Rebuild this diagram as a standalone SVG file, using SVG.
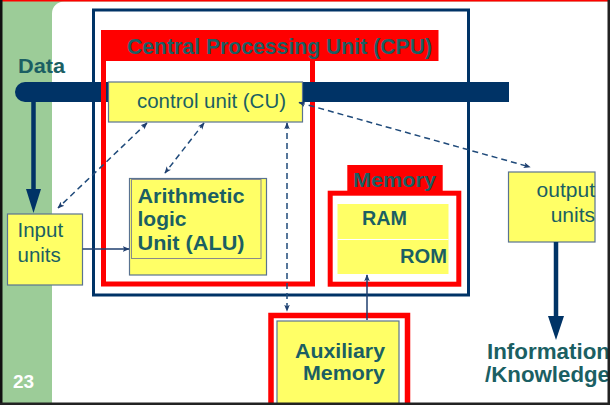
<svg xmlns="http://www.w3.org/2000/svg" width="610" height="405" viewBox="0 0 610 405">
<style>
.bold{font-family:"Liberation Sans",Arial,sans-serif;font-weight:bold;fill:#1b5f63}
.reg{font-family:"Liberation Sans",Arial,sans-serif;fill:#1b5f63}
.ybox{fill:#ffff66;stroke:#5a7390;stroke-width:1.2}
.red{fill:none;stroke:#ff0000;stroke-width:5}
.dash{fill:none;stroke:#1f4a7a;stroke-width:1.5;stroke-dasharray:6 4;marker-start:url(#ah);marker-end:url(#ah)}
.thin{fill:none;stroke:#1f3f6f;stroke-width:1.5;marker-end:url(#ah)}
.thick{fill:none;stroke:#003366;stroke-width:4.5}
</style>
<defs>
<marker id="ah" viewBox="0 0 10 10" refX="9" refY="5" markerUnits="userSpaceOnUse" markerWidth="7" markerHeight="7" orient="auto-start-reverse">
<path d="M0,1 L10,5 L0,9 L2.5,5 Z" fill="#1f3f6f"/>
</marker>
</defs>
<g id="background">
<rect x="0" y="0" width="610" height="405" fill="#9ccc98"/>
<path d="M64,1.5 H608 V403 H52 V13.5 A12,12 0 0 1 64,1.5 Z" fill="#ffffff"/>
<text x="13" y="388" font-family="Liberation Sans,Arial,sans-serif" font-weight="bold" font-size="19" fill="#ffffff">23</text>
</g>
<g id="computer">
<rect x="93.5" y="10" width="375" height="285" fill="none" stroke="#003366" stroke-width="3"/>
</g>
<g id="data-bus">
<path d="M25,82 H509 V102 H25 A10,10 0 0 1 25,82 Z" fill="#003366"/>
<text class="bold" x="18" y="73" font-size="20" textLength="47" lengthAdjust="spacingAndGlyphs">Data</text>
</g>
<g id="cpu">
<rect class="red" x="103.5" y="58" width="209" height="226"/>
<rect x="101" y="30" width="337.5" height="31" fill="#ff0000"/>
<text class="bold" x="127" y="53.5" font-size="22" textLength="305" lengthAdjust="spacingAndGlyphs">Central Processing Unit (CPU)</text>
<rect x="309" y="82" width="7" height="20" fill="#003366"/>
</g>
<g id="control-unit">
<rect class="ybox" x="108.5" y="82" width="194" height="40"/>
<text class="reg" x="137" y="107.5" font-size="21" textLength="149" lengthAdjust="spacingAndGlyphs">control unit (CU)</text>
</g>
<g id="alu">
<rect class="ybox" x="129.5" y="178.5" width="137" height="96.5"/>
<rect x="131.5" y="179.5" width="129.5" height="79" fill="none" stroke="#8a8a8a" stroke-width="1"/>
<text class="bold" x="137.5" y="202.5" font-size="21" textLength="107" lengthAdjust="spacingAndGlyphs">Arithmetic</text>
<text class="bold" x="137.5" y="226" font-size="21">logic</text>
<text class="bold" x="137.5" y="250" font-size="21" textLength="107" lengthAdjust="spacingAndGlyphs">Unit (ALU)</text>
</g>
<g id="memory">
<rect class="red" x="330.2" y="193.2" width="128.6" height="91"/>
<rect x="347.3" y="165" width="95.4" height="30" fill="#ff0000"/>
<text class="bold" x="353" y="187" font-size="21" textLength="83" lengthAdjust="spacingAndGlyphs">Memory</text>
<rect x="337.5" y="204" width="111" height="70" fill="#ffff66"/>
<line x1="337.5" y1="239.5" x2="448.5" y2="239.5" stroke="#ffffff" stroke-width="1"/>
<text class="bold" x="362" y="225" font-size="20" textLength="45" lengthAdjust="spacingAndGlyphs">RAM</text>
<text class="bold" x="400" y="262.5" font-size="20" textLength="47" lengthAdjust="spacingAndGlyphs">ROM</text>
</g>
<g id="auxiliary-memory">
<rect x="271" y="315.5" width="136.5" height="100" fill="none" stroke="#ff0000" stroke-width="5.5"/>
<rect class="ybox" x="277" y="321" width="122" height="90"/>
<text class="bold" x="385" y="357.5" font-size="21" text-anchor="end" textLength="90" lengthAdjust="spacingAndGlyphs">Auxiliary</text>
<text class="bold" x="385" y="380" font-size="21" text-anchor="end" textLength="82" lengthAdjust="spacingAndGlyphs">Memory</text>
</g>
<g id="input-units">
<rect class="ybox" x="7.5" y="214" width="75" height="71"/>
<text class="reg" x="17.5" y="237" font-size="20.5">Input</text>
<text class="reg" x="17.5" y="262" font-size="20.5">units</text>
</g>
<g id="output-units">
<rect class="ybox" x="508.5" y="172" width="86.5" height="70"/>
<text class="reg" x="595" y="197" font-size="21" text-anchor="end">output</text>
<text class="reg" x="595" y="222" font-size="21" text-anchor="end">units</text>
</g>
<g id="information">
<text class="bold" x="487" y="358.5" font-size="21.5" textLength="123" lengthAdjust="spacingAndGlyphs">Information</text>
<text class="bold" x="485" y="382" font-size="21.5" textLength="125" lengthAdjust="spacingAndGlyphs">/Knowledge</text>
</g>
<g id="connectors">
<line class="thick" x1="33.5" y1="100" x2="33.5" y2="192"/>
<polygon points="26,189 41,189 33.5,213" fill="#003366"/>
<line class="thick" x1="556" y1="242" x2="556" y2="318"/>
<polygon points="548,316 564,316 556,340" fill="#003366"/>
<line class="thin" x1="82.5" y1="249" x2="129" y2="249"/>
<line class="thin" x1="367" y1="320" x2="367" y2="275"/>
<line class="dash" x1="147" y1="123" x2="58" y2="208"/>
<line class="dash" x1="204" y1="123" x2="165" y2="173"/>
<line class="dash" x1="287" y1="123" x2="287" y2="311"/>
<line class="dash" x1="299" y1="102.5" x2="530" y2="167"/>
</g>
<g id="frame">
<rect x="0" y="0" width="610" height="1.5" fill="#ff0000"/>
<rect x="0" y="0" width="2.5" height="405" fill="#111111"/>
<rect x="607.5" y="0" width="2.5" height="405" fill="#222222"/>
<rect x="0" y="402.5" width="610" height="2.5" fill="#222222"/>
</g>
</svg>
